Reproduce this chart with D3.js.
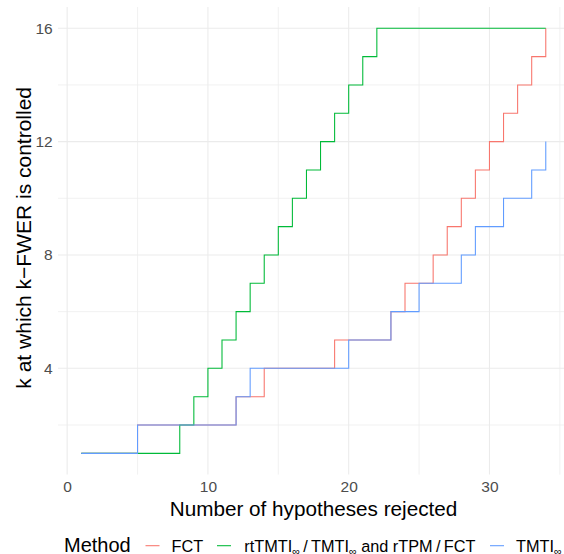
<!DOCTYPE html>
<html>
<head>
<meta charset="utf-8">
<script src="https://cdn.jsdelivr.net/npm/d3@7"></script>
<style>
  html, body { margin: 0; padding: 0; background: #fff; overflow: hidden; }
  text { font-family: "Liberation Sans", Arial, sans-serif; }
</style>
</head>
<body>
<svg id="chart" width="564" height="554"></svg>
<script>
// ---- data ----
const hypotheses = d3.range(1, 35); // 1..34
const fct   = [1,1,1,1,2,2,2,2,2,2,2,3,3,4,4,4,4,4,5,5,5,5,6,7,7,8,9,10,11,12,13,14,15,16];
const rt    = [1,1,1,1,1,1,1,2,3,4,5,6,7,8,9,10,11,12,13,14,15,16,16,16,16,16,16,16,16,16,16,16,16,16];
const tmti  = [1,1,1,1,2,2,2,2,2,2,2,3,4,4,4,4,4,4,4,5,5,5,6,6,7,7,7,8,9,9,10,10,11,12];
const xTicks = [0, 10, 20, 30];
const xMinor = [5, 15, 25, 35];
const yTicks = [4, 8, 12, 16];
const yMinor = [2, 6, 10, 14];
const methods = ["FCT", "rt", "TMTI"];
const colors = ["#F8766D", "#00BA38", "#619CFF"];
const seriesValues = [fct, rt, tmti];

(function () {
// ---- layout ----
const svg = d3.select("#chart");
const pL = 58, pR = 569, pT = 7, pB = 474.6;
const x = d3.scaleLinear().domain([-0.65, 35.65]).range([pL, pR]);
const y = d3.scaleLinear().domain([0.25, 16.75]).range([pB, pT]);

const grid = svg.append("g");
grid.selectAll(".vmin").data(xMinor).join("line")
  .attr("x1", d => x(d)).attr("x2", d => x(d)).attr("y1", pT).attr("y2", pB)
  .attr("stroke", "#ededed").attr("stroke-width", 0.8);
grid.selectAll(".hmin").data(yMinor).join("line")
  .attr("x1", pL).attr("x2", pR).attr("y1", d => y(d)).attr("y2", d => y(d))
  .attr("stroke", "#ededed").attr("stroke-width", 0.8);
grid.selectAll(".vmaj").data(xTicks).join("line")
  .attr("x1", d => x(d)).attr("x2", d => x(d)).attr("y1", pT).attr("y2", pB)
  .attr("stroke", "#ebebeb").attr("stroke-width", 1.07);
grid.selectAll(".hmaj").data(yTicks).join("line")
  .attr("x1", pL).attr("x2", pR).attr("y1", d => y(d)).attr("y2", d => y(d))
  .attr("stroke", "#ebebeb").attr("stroke-width", 1.07);

// ---- lines ----
const line = d3.line().curve(d3.curveStepAfter)
  .x(d => x(d[0])).y(d => y(d[1]));
seriesValues.forEach((vals, i) => {
  svg.append("path")
    .datum(hypotheses.map((h, j) => [h, vals[j]]))
    .attr("fill", "none")
    .attr("stroke", colors[i])
    .attr("stroke-width", 1.07)
    .attr("d", line);
});

// ---- axes ----
const xAxis = svg.append("g").attr("transform", `translate(0,${pB})`)
  .call(d3.axisBottom(x).tickValues(xTicks).tickSize(0).tickPadding(0));
xAxis.select(".domain").remove();
xAxis.selectAll("text").attr("fill", "#4d4d4d").attr("font-size", 15.5)
  .attr("dy", null).attr("y", 17.1);

const yAxis = svg.append("g").attr("transform", `translate(${pL},0)`)
  .call(d3.axisLeft(y).tickValues(yTicks).tickSize(0).tickPadding(5.3));
yAxis.select(".domain").remove();
yAxis.selectAll("text").attr("fill", "#4d4d4d").attr("font-size", 15.5);

svg.append("text").attr("x", (pL + pR) / 2).attr("y", 515.5)
  .attr("text-anchor", "middle").attr("font-size", 20.7).attr("fill", "#000")
  .text("Number of hypotheses rejected");
svg.append("text")
  .attr("transform", `translate(31,${(pT + pB) / 2 - 3}) rotate(-90)`)
  .attr("text-anchor", "middle").attr("font-size", 21).attr("fill", "#000")
  .text("k at which k\u2212FWER is controlled");

// ---- legend ----
const lg = svg.append("g");
lg.append("text").attr("x", 64).attr("y", 551.7).attr("font-size", 20).attr("fill", "#000").text("Method");
const keyX = [145.5, 217, 490];
const labX = [171.5, 244.3, 516];
methods.forEach((m, i) => {
  lg.append("line").attr("x1", keyX[i]).attr("x2", keyX[i] + 14)
    .attr("y1", 545.7).attr("y2", 545.7)
    .attr("stroke", colors[i]).attr("stroke-width", 1.07);
  const t = lg.append("text").attr("x", labX[i]).attr("y", 551.7)
    .attr("font-size", 16.3).attr("fill", "#000");
  const sub = (txt) => t.append("tspan").attr("font-size", 10.8).attr("dy", 3).text(txt);
  const norm = (txt) => t.append("tspan").attr("font-size", 16.3).attr("dy", -3).text(txt);
  if (m === "FCT") {
    t.text("FCT");
  } else if (m === "rt") {
    t.append("tspan").text("rtTMTI");
    sub("\u221E");
    norm("\u2009/\u2009TMTI");
    sub("\u221E");
    norm(" and rTPM\u2009/\u2009FCT");
  } else {
    t.append("tspan").text("TMTI");
    sub("\u221E");
  }
});
})();
</script>
</body>
</html>
